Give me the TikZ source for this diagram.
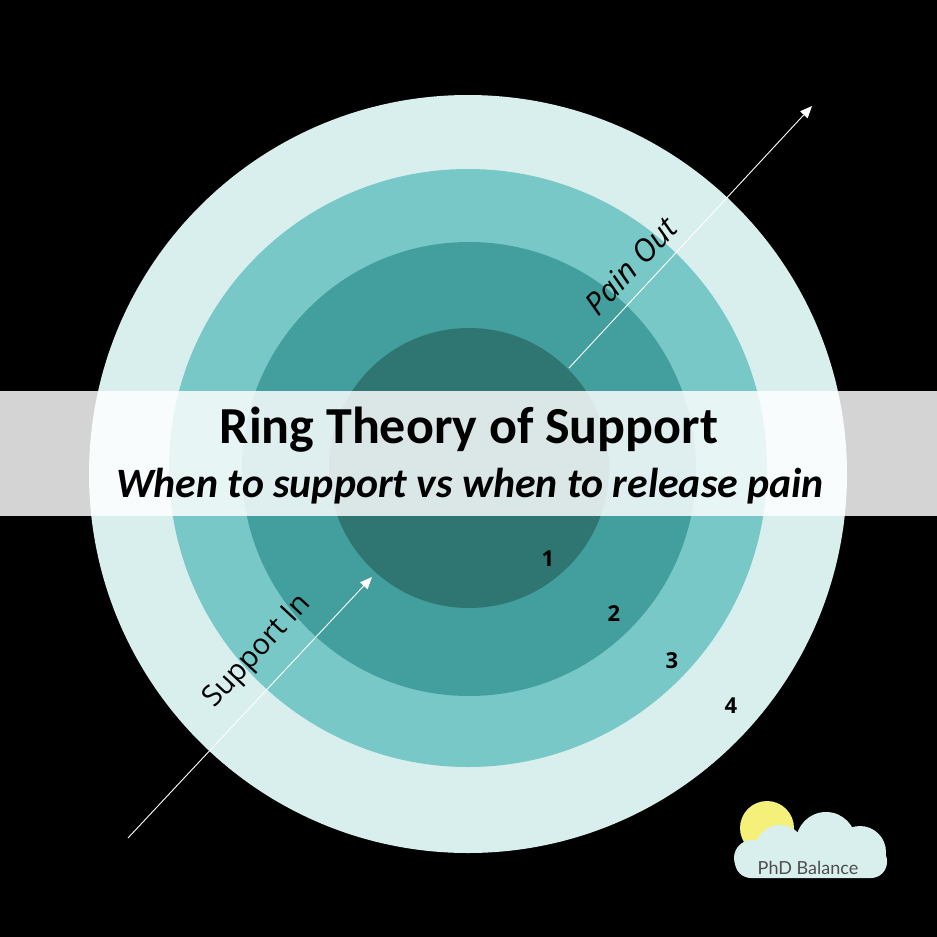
\documentclass[tikz,border=0pt]{standalone}
\usepackage{fontspec}
\setmainfont{Carlito}
\newfontfamily\labfont{Open Sans}
\newfontfamily\logofont{Lato}
\usetikzlibrary{arrows.meta}
\definecolor{ringA}{HTML}{D8EFEE}
\definecolor{ringB}{HTML}{77C8C6}
\definecolor{ringC}{HTML}{429F9D}
\definecolor{ringD}{HTML}{2F7571}
\definecolor{sunY}{HTML}{F5F07A}
\definecolor{logoG}{HTML}{4D4D4D}
\tikzset{
  flowarrow/.style={white, line width=0.9pt, -{Triangle[width=10pt,length=12pt]}},
  difflabel/.style={font=\labfont\fontsize{29}{33}\selectfont, text=black, rotate=47, inner sep=0pt},
  ringnum/.style={font=\labfont\bfseries\fontsize{22}{24}\selectfont, text=black, inner sep=0pt},
}
\begin{document}
\begin{tikzpicture}[x=1pt,y=-1pt]
\fill[black] (0,0) rectangle (937,937);
\useasboundingbox (0,0) rectangle (937,937);
% rings
\fill[ringA] (468,474) circle (379);
\fill[ringB] (468,468) circle (299);
\fill[ringC] (469,469) circle (227);
\fill[ringD] (469,468) circle (140);
% numbers
\node[ringnum] (n1) at (548,559) {1};
\node[ringnum] (n2) at (614,614) {2};
\node[ringnum] (n3) at (672,661) {3};
\node[ringnum] (n4) at (731,706) {4};
% arrows
\coordinate (poS) at (569,368);
\coordinate (poE) at (812,106);
\coordinate (siS) at (128,838);
\coordinate (siE) at (372,577);
\draw[flowarrow] (poS) -- (poE);
\draw[flowarrow] (siS) -- (siE);
\node[difflabel, font=\labfont\itshape\fontsize{31}{35}\selectfont] (pain) at (631,266) {Pain Out};
\node[difflabel] (supp) at (258,652) {Support In};
% band
\fill[white, opacity=0.83] (0,391) rectangle (937,516);
\node[inner sep=0pt, font=\bfseries\fontsize{52}{58}\selectfont] (title) at (469,430) {Ring Theory of Support};
\node[inner sep=0pt, font=\bfseries\itshape\fontsize{41.8}{46}\selectfont] (sub) at (470,486) {When to support vs when to release pain};
% logo
\fill[sunY] (767,828) circle (27);
\fill[ringA, rounded corners=16pt] (735,845) rectangle (887,878);
\fill[ringA] (752,858) circle (18);
\fill[ringA] (780,850) circle (25);
\fill[ringA] (826,842) circle (30);
\fill[ringA] (860,852) circle (26);
\node[inner sep=0pt, text=logoG, font=\logofont\fontsize{18}{21}\selectfont] (logo) at (808,868) {PhD Balance};
\end{tikzpicture}
\end{document}
